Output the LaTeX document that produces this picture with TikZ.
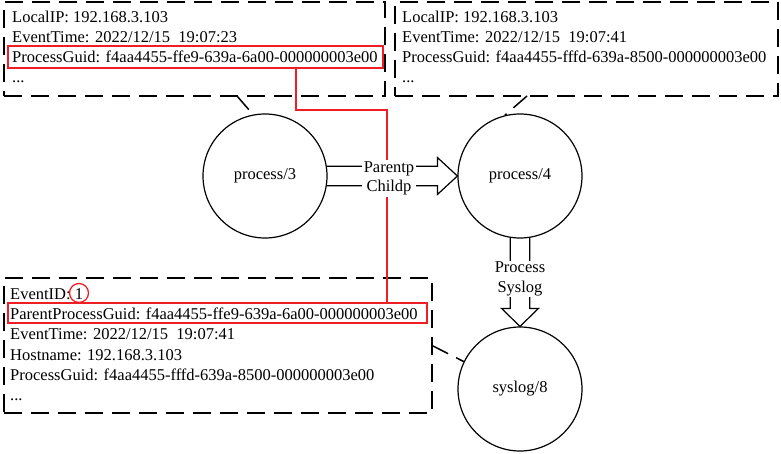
\documentclass[tikz,border=0pt]{standalone}
\usepackage{fontspec}
\setmainfont{Liberation Serif}
\usetikzlibrary{calc}
\definecolor{hl}{RGB}{238,30,36}
\begin{document}
\begin{tikzpicture}[x=1pt,y=-1pt,
  every node/.style={font=\fontsize{16.5}{19.5}\selectfont},
  dbox/.style={draw, line width=1.5pt, dash pattern=on 18pt off 9pt, rectangle, anchor=north west, inner sep=0pt, outer sep=0pt},
  dcon/.style={line width=1.5pt, dash pattern=on 18pt off 9pt},
  txt/.style={anchor=base west, inner sep=0pt},
  hlbox/.style={draw=hl, line width=1.4pt, rectangle, anchor=north west, inner sep=0pt, outer sep=0pt},
  hlline/.style={draw=hl, line width=1.4pt},
  circ/.style={circle, draw, line width=1.2pt, minimum size=124pt, inner sep=0pt},
  arr/.style={line width=1.2pt, line join=miter},
  lab/.style={fill=white, align=center, inner sep=1.5pt}]
\useasboundingbox (0,0) rectangle (781,454);

% boxes
\node[dbox, minimum width=381pt, minimum height=94pt] (b1) at (4,2) {};
\node[dbox, minimum width=383pt, minimum height=94pt] (b2) at (395,2) {};
\node[dbox, minimum width=428pt, minimum height=135pt] (b3) at (4,278) {};

% texts box 1
\node[txt] (t11) at (12,23) {LocalIP: 192.168.3.103};
\node[txt] (t12) at (12,43) {EventTime: 2022/12/15\ \ 19:07:23};
\node[txt] (t13) at (12,63) {ProcessGuid: f4aa4455-ffe9-639a-6a00-000000003e00};
\node[txt] (t14) at (12,83) {...};
% texts box 2
\node[txt] (t21) at (402,23) {LocalIP: 192.168.3.103};
\node[txt] (t22) at (402,43) {EventTime: 2022/12/15\ \ 19:07:41};
\node[txt] (t23) at (402,63) {ProcessGuid: f4aa4455-fffd-639a-8500-000000003e00};
\node[txt] (t24) at (402,83) {...};
% texts box 3
\node[txt] (t31) at (10,299) {EventID: 1};
\node[txt] (t32) at (10,319) {ParentProcessGuid: f4aa4455-ffe9-639a-6a00-000000003e00};
\node[txt] (t33) at (10,339.5) {EventTime: 2022/12/15\ \ 19:07:41};
\node[txt] (t34) at (10,360) {Hostname: 192.168.3.103};
\node[txt] (t35) at (10,380) {ProcessGuid: f4aa4455-fffd-639a-8500-000000003e00};
\node[txt] (t36) at (10,400) {...};

% highlights
\node[hlbox, minimum width=375pt, minimum height=22pt] (r1) at (8,46) {};
\node[hlbox, minimum width=419pt, minimum height=20pt] (r2) at (8,303) {};
\node[circle, draw=hl, line width=1.3pt, minimum size=19pt, inner sep=0pt] (c1) at (79,293) {};
\draw[hlline] ([xshift=288pt]r1.south west) -- ++(0,42) -| ([xshift=379pt]r2.north west);

% circles
\node[circ] (p3) at (265,176) {process/3};
\node[circ] (p4) at (520,176) {process/4};
\node[circ] (p8) at (520,389) {syslog/8};

% dashed connectors
\draw[dcon] ([xshift=233pt]b1.south west) -- (p3.101);
\draw[dcon] ([xshift=132pt]b2.south west) -- (p4.104);
\draw[dcon] (b3.east) -- (p8.154);

% hollow arrows
\coordinate (hb) at ([xshift=-20pt]p4.west);
\draw[arr] (p3.9) -- (p3.9 -| hb) -- ([yshift=18.5pt]hb) -- (p4.west) -- ([yshift=-18.5pt]hb) -- (p3.-9 -| hb) -- (p3.-9);
\coordinate (vb) at ([yshift=18pt]p8.north);
\draw[arr] (p4.-81) -- (p4.-81 |- vb) -- ([xshift=18.5pt]vb) -- (p8.north) -- ([xshift=-18.5pt]vb) -- (p4.-99 |- vb) -- (p4.-99);

% labels
\node[lab] (l1) at (389,178.5) {Parentp\\Childp};
\node[lab] (l2) at (520,279) {Process\\Syslog};
\end{tikzpicture}
\end{document}
